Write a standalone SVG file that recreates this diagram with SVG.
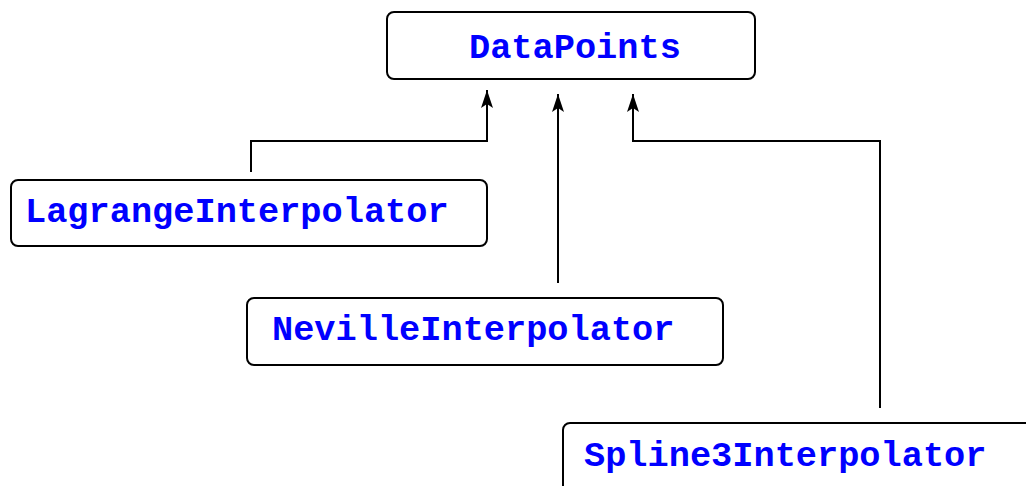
<svg xmlns="http://www.w3.org/2000/svg" width="1026" height="486" viewBox="0 0 1026 486">
  <style>
    .box { fill: #ffffff; stroke: #000000; stroke-width: 2; }
    .label { font-family: "Liberation Mono", "Courier New", monospace; font-weight: bold; font-size: 35.3px; fill: #0000ff; }
    .edge { fill: none; stroke: #000000; stroke-width: 2; }
  </style>
  <defs>
    <marker id="arrow" markerUnits="userSpaceOnUse" markerWidth="20" markerHeight="14" refX="18" refY="6" orient="auto">
      <path d="M0,0 L18,6 L0,12 L4,6 Z" fill="#000000"/>
    </marker>
  </defs>
  <rect width="1026" height="486" fill="#ffffff"/>

  <g id="connectors">
    <path class="edge" d="M251,172 V141 H487 V90" marker-end="url(#arrow)"/>
    <path class="edge" d="M558,283 V94" marker-end="url(#arrow)"/>
    <path class="edge" d="M880,408 V141 H633 V94" marker-end="url(#arrow)"/>
  </g>

  <g id="DataPoints">
    <rect class="box" x="387" y="12" width="368" height="67" rx="7"/>
    <text class="label" x="469" y="58">DataPoints</text>
  </g>

  <g id="LagrangeInterpolator">
    <rect class="box" x="11" y="180" width="476" height="66" rx="7"/>
    <text class="label" x="25" y="222">LagrangeInterpolator</text>
  </g>

  <g id="NevilleInterpolator">
    <rect class="box" x="247" y="298" width="476" height="67" rx="7"/>
    <text class="label" x="272" y="340">NevilleInterpolator</text>
  </g>

  <g id="Spline3Interpolator">
    <rect class="box" x="563" y="423" width="476" height="80" rx="7"/>
    <text class="label" x="584" y="466">Spline3Interpolator</text>
  </g>
</svg>
